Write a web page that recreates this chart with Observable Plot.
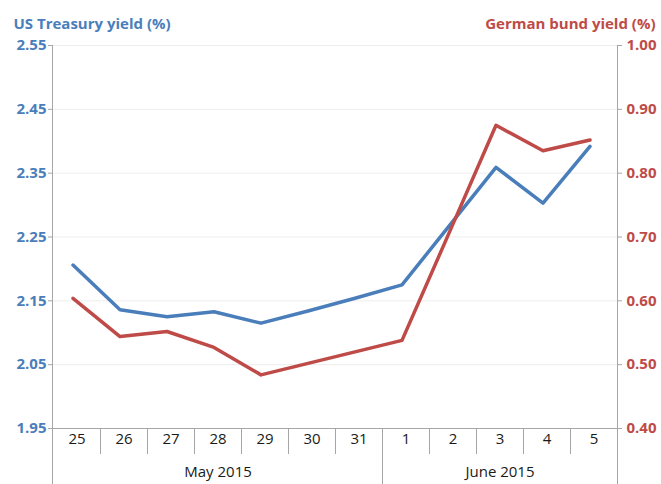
<!DOCTYPE html>
<html>
<head>
<meta charset="utf-8">
<script src="https://cdn.jsdelivr.net/npm/d3@7"></script>
<script src="https://cdn.jsdelivr.net/npm/@observablehq/plot@0.6"></script>
<style>
  html, body { margin: 0; padding: 0; background: #fff; }
  #chart svg { display: block; }
</style>
</head>
<body>
<div id="chart"></div>
<script>
// ---- data ----
const days = ["25", "26", "27", "28", "29", "30", "31", "1", "2", "3", "4", "5"];
const months = ["May 2015", "May 2015", "May 2015", "May 2015", "May 2015", "May 2015", "May 2015",
                "June 2015", "June 2015", "June 2015", "June 2015", "June 2015"];
const usYield = [2.206, 2.136, 2.125, 2.133, 2.115, 2.134, 2.154, 2.175, 2.267, 2.359, 2.303, 2.392];
const bundYield = [0.604, 0.544, 0.552, 0.527, 0.484, 0.502, 0.520, 0.538, 0.706, 0.875, 0.835, 0.852];
const leftTicks = [1.95, 2.05, 2.15, 2.25, 2.35, 2.45, 2.55];
const rightTicks = [0.40, 0.50, 0.60, 0.70, 0.80, 0.90, 1.00];
const leftTitle = "US Treasury yield (%)";
const rightTitle = "German bund yield (%)";

// ---- styles ----
const blue = "#4A7EBB";
const red = "#BE4B48";
const axisGrey = "#A6A6A6";

// map right-axis values onto the left scale
const lMin = leftTicks[0], lMax = leftTicks[leftTicks.length - 1];
const rMin = rightTicks[0], rMax = rightTicks[rightTicks.length - 1];
const toLeft = v => lMin + (v - rMin) * (lMax - lMin) / (rMax - rMin);
const toRight = v => rMin + (v - lMin) * (rMax - rMin) / (lMax - lMin);

const usData = days.map((d, i) => ({day: d, value: usYield[i]}));
const bundData = days.map((d, i) => ({day: d, value: bundYield[i]}));

// month groups
const monthNames = [...new Set(months)];
const monthGroups = monthNames.map(m => {
  const ds = days.filter((d, i) => months[i] === m);
  return {month: m, days: ds, mid: ds[Math.floor(ds.length / 2)]};
});

// custom category-axis decoration using the plot's x scale
const axisDecor = (index, scales, values, dims) => {
  const x = scales.x;
  const left = dims.marginLeft;
  const right = dims.width - dims.marginRight;
  const top = dims.marginTop;
  const bottom = dims.height - dims.marginBottom;
  const g = d3.create("svg:g").attr("stroke", axisGrey).attr("stroke-width", 1).attr("fill", "none");
  g.append("line").attr("x1", left - 4).attr("x2", right + 4).attr("y1", bottom + 0.5).attr("y2", bottom + 0.5);
  g.append("line").attr("x1", left + 0.5).attr("x2", left + 0.5).attr("y1", top).attr("y2", dims.height);
  g.append("line").attr("x1", right + 0.5).attr("x2", right + 0.5).attr("y1", top).attr("y2", dims.height);
  const monthStarts = new Set(monthGroups.slice(1).map(g => g.days[0]));
  days.slice(1).forEach(d => {
    const xx = Math.round(x(d)) + 0.5;
    g.append("line").attr("x1", xx).attr("x2", xx).attr("y1", bottom)
      .attr("y2", monthStarts.has(d) ? dims.height : bottom + 26);
  });
  return g.node();
};

const chart = Plot.plot({
  width: 661,
  height: 484,
  marginTop: 45,
  marginBottom: 56,
  marginLeft: 52,
  marginRight: 44,
  style: {fontFamily: "'Open Sans', sans-serif", background: "#fff"},
  x: {type: "band", domain: days, padding: 0, axis: null},
  y: {domain: [lMin, lMax], axis: null},
  marks: [
    Plot.gridY(leftTicks, {stroke: "#EDEDED", strokeOpacity: 1}),
    Plot.axisY(leftTicks, {
      anchor: "left", label: null, tickSize: 4, tickPadding: 2, stroke: axisGrey, fill: blue,
      fontSize: 15, fontWeight: "bold", tickFormat: d => d.toFixed(2)
    }),
    Plot.axisY(rightTicks.map(toLeft), {
      anchor: "right", label: null, tickSize: 4, tickPadding: 5, stroke: axisGrey, fill: red,
      fontSize: 15, fontWeight: "bold", tickFormat: d => toRight(d).toFixed(2)
    }),
    axisDecor,
    Plot.text(days, {x: d => d, text: d => d, frameAnchor: "bottom", dy: 15, fontSize: 15, fill: "#1a1a1a"}),
    Plot.text(monthGroups, {x: "mid", text: "month", frameAnchor: "bottom", dy: 48, fontSize: 15, fill: "#1a1a1a"}),
    Plot.line(usData, {x: "day", y: "value", stroke: blue, strokeWidth: 3.5, dx: -4}),
    Plot.line(bundData, {x: "day", y: d => toLeft(d.value), stroke: red, strokeWidth: 3.5, dx: -4}),
    Plot.text([leftTitle], {frameAnchor: "top-left", text: d => d, textAnchor: "start", dx: -39, dy: -27,
      fill: blue, fontSize: 15, fontWeight: "bold"}),
    Plot.text([rightTitle], {frameAnchor: "top-right", text: d => d, textAnchor: "end", dx: 38, dy: -27,
      fill: red, fontSize: 15, fontWeight: "bold"})
  ]
});
document.getElementById("chart").appendChild(chart);
</script>
</body>
</html>
